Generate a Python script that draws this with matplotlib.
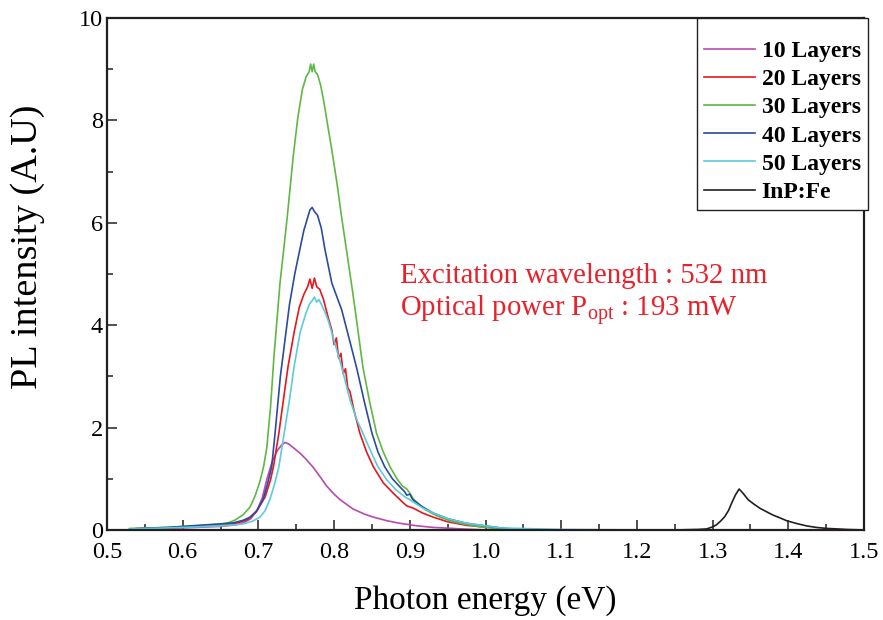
import numpy as np
import matplotlib
matplotlib.use('Agg')
import matplotlib.pyplot as plt
from matplotlib.ticker import MultipleLocator, FormatStrFormatter

plt.rcParams['font.family'] = ['Liberation Serif', 'DejaVu Serif']
plt.rcParams['mathtext.default'] = 'regular'

# Photon energy (eV) / PL intensity (A.U)
x10 = [0.53, 0.60, 0.65, 0.67, 0.68, 0.690, 0.698, 0.705, 0.711, 0.718, 0.725, 0.730,
       0.735, 0.740, 0.745, 0.755, 0.763, 0.772, 0.781, 0.790, 0.800, 0.808, 0.825,
       0.840, 0.852, 0.870, 0.887, 0.910, 0.931, 0.97, 1.0]
y10 = [0.02, 0.04, 0.07, 0.10, 0.14, 0.22, 0.38, 0.62, 0.98, 1.33, 1.55, 1.65,
       1.71, 1.68, 1.62, 1.50, 1.38, 1.23, 1.05, 0.86, 0.70, 0.59, 0.41,
       0.31, 0.25, 0.18, 0.13, 0.08, 0.05, 0.02, 0.0]

x20 = [0.53, 0.58, 0.62, 0.65, 0.671, 0.685, 0.697, 0.709, 0.716, 0.720, 0.727, 0.733,
       0.739, 0.747, 0.754, 0.760, 0.765, 0.768, 0.771, 0.774, 0.777, 0.781, 0.786,
       0.792, 0.797, 0.800, 0.803, 0.806, 0.809, 0.812, 0.815, 0.818, 0.821, 0.826,
       0.834, 0.843, 0.852, 0.865, 0.878, 0.890, 0.896, 0.904, 0.917, 0.931, 0.950,
       0.975, 1.02, 1.05]
y20 = [0.02, 0.04, 0.07, 0.10, 0.13, 0.20, 0.35, 0.65, 0.98, 1.25, 1.89, 2.54,
       3.18, 3.85, 4.35, 4.60, 4.75, 4.90, 4.72, 4.92, 4.75, 4.70, 4.50,
       4.16, 3.90, 3.62, 3.75, 3.35, 3.45, 3.05, 3.15, 2.78, 2.70, 2.35,
       1.89, 1.52, 1.23, 0.92, 0.72, 0.55, 0.47, 0.43, 0.33, 0.25, 0.16,
       0.09, 0.03, 0.0]

x30 = [0.53, 0.58, 0.62, 0.65, 0.660, 0.670, 0.680, 0.689, 0.696, 0.702, 0.707, 0.711,
       0.716, 0.7206, 0.7285, 0.738, 0.746, 0.752, 0.758, 0.763, 0.767, 0.769, 0.771,
       0.773, 0.775, 0.778, 0.782, 0.786, 0.791, 0.797, 0.804, 0.810, 0.817, 0.824,
       0.831, 0.838, 0.847, 0.856, 0.865, 0.874, 0.883, 0.890, 0.896, 0.900, 0.904,
       0.912, 0.92, 0.93, 0.94, 0.955, 0.97, 0.993, 1.02, 1.05]
y30 = [0.03, 0.05, 0.08, 0.11, 0.14, 0.20, 0.30, 0.45, 0.68, 0.95, 1.25, 1.60,
       2.40, 3.40, 4.82, 6.10, 7.30, 8.05, 8.60, 8.85, 8.95, 9.10, 8.95,
       9.10, 8.95, 8.90, 8.70, 8.40, 7.95, 7.42, 6.75, 6.10, 5.40, 4.70,
       3.95, 3.18, 2.50, 1.89, 1.52, 1.23, 1.00, 0.86, 0.80, 0.72, 0.62,
       0.50, 0.40, 0.32, 0.25, 0.17, 0.12, 0.06, 0.02, 0.0]

x40 = [0.53, 0.58, 0.62, 0.65, 0.667, 0.680, 0.689, 0.698, 0.706, 0.712, 0.7175, 0.722,
       0.729, 0.735, 0.741, 0.748, 0.755, 0.760, 0.765, 0.768, 0.771, 0.774, 0.778,
       0.783, 0.788, 0.797, 0.810, 0.824, 0.830, 0.840, 0.850, 0.858, 0.867, 0.877,
       0.887, 0.893, 0.896, 0.900, 0.904, 0.917, 0.931, 0.950, 0.975, 1.02, 1.05]
y40 = [0.02, 0.05, 0.09, 0.12, 0.14, 0.19, 0.25, 0.38, 0.59, 0.90, 1.23, 1.89,
       3.00, 3.70, 4.40, 5.00, 5.50, 5.85, 6.10, 6.25, 6.30, 6.22, 6.15,
       5.90, 5.47, 4.82, 4.30, 3.50, 3.15, 2.50, 1.89, 1.52, 1.23, 1.00,
       0.84, 0.75, 0.68, 0.70, 0.59, 0.45, 0.33, 0.22, 0.13, 0.04, 0.0]

x50 = [0.53, 0.58, 0.62, 0.65, 0.668, 0.680, 0.692, 0.702, 0.709, 0.715, 0.721, 0.727,
       0.734, 0.741, 0.747, 0.755, 0.762, 0.767, 0.771, 0.774, 0.777, 0.780, 0.784,
       0.788, 0.792, 0.797, 0.810, 0.821, 0.830, 0.838, 0.848, 0.858, 0.870, 0.882,
       0.894, 0.899, 0.904, 0.917, 0.931, 0.950, 0.975, 1.02, 1.10, 1.20, 1.30]
y50 = [0.02, 0.04, 0.06, 0.08, 0.10, 0.12, 0.17, 0.25, 0.38, 0.59, 0.88, 1.23,
       1.89, 2.54, 3.18, 3.85, 4.20, 4.40, 4.48, 4.55, 4.45, 4.50, 4.38,
       4.25, 4.10, 3.85, 3.18, 2.54, 2.15, 1.89, 1.55, 1.23, 0.97, 0.78,
       0.64, 0.60, 0.55, 0.43, 0.33, 0.22, 0.13, 0.04, 0.01, 0.0, 0.0]

x_inp = [1.25, 1.28, 1.292, 1.300, 1.305, 1.311, 1.316, 1.321, 1.325, 1.330, 1.335,
         1.340, 1.347, 1.355, 1.363, 1.372, 1.38, 1.39, 1.398, 1.410, 1.424, 1.437,
         1.451, 1.465, 1.477, 1.5]
y_inp = [0.0, 0.01, 0.02, 0.06, 0.10, 0.18, 0.26, 0.38, 0.52, 0.68, 0.80,
         0.72, 0.59, 0.50, 0.42, 0.35, 0.29, 0.23, 0.18, 0.13, 0.08, 0.05,
         0.03, 0.02, 0.01, 0.0]

series = [
    (x10, y10, '10 Layers', '#b74aae'),
    (x20, y20, '20 Layers', '#e8161e'),
    (x30, y30, '30 Layers', '#5fb844'),
    (x40, y40, '40 Layers', '#2a4c9e'),
    (x50, y50, '50 Layers', '#5ccbdc'),
    (x_inp, y_inp, 'InP:Fe', '#231f20'),
]

fig = plt.figure(figsize=(8.83, 6.2), dpi=100)
ax = fig.add_axes([0.1212, 0.1452, 0.8573, 0.8258])

for xs, ys, lab, col in series:
    ax.plot(xs, ys, color=col, lw=1.2, label=lab)

ax.set_xlim(0.5, 1.5)
ax.set_ylim(0, 10)
ax.xaxis.set_major_locator(MultipleLocator(0.1))
ax.xaxis.set_minor_locator(MultipleLocator(0.05))
ax.yaxis.set_major_locator(MultipleLocator(2))
ax.yaxis.set_minor_locator(MultipleLocator(1))
ax.xaxis.set_major_formatter(FormatStrFormatter('%.1f'))

ax.tick_params(which='both', direction='in', color='#231f20', labelsize=17.5)
ax.tick_params(which='major', length=7.5, width=1.1)
ax.tick_params(which='minor', length=4, width=1.1)
ax.tick_params(axis='x', pad=9)
ax.tick_params(axis='y', pad=3)
for sp in ax.spines.values():
    sp.set_linewidth(1.6)
    sp.set_color('#231f20')

ax.set_xlabel('Photon energy (eV)', fontsize=24, labelpad=16)
ax.set_ylabel('PL intensity (A.U)', fontsize=27.5)
ax.yaxis.set_label_coords(-0.082, 0.553)

ax.text(0.887, 4.82, 'Excitation wavelength : 532 nm', color='#e8212b',
        fontsize=20.7, va='baseline')
ax.text(0.887, 4.18, 'Optical power P$_{opt}$ : 193 mW', color='#e8212b',
        fontsize=20.7, va='baseline')

leg = ax.legend(loc='upper right', bbox_to_anchor=(1.005, 1.0), borderaxespad=0,
                prop={'weight': 'bold', 'size': 17}, frameon=True, fancybox=False,
                edgecolor='#231f20', labelspacing=0.28, handlelength=2.15,
                handletextpad=0.3, borderpad=0.3, title=' ',
                title_fontsize=7)
leg.get_frame().set_linewidth(1.0)
leg.get_frame().set_alpha(None)

fig.savefig('out.png', dpi=100)
